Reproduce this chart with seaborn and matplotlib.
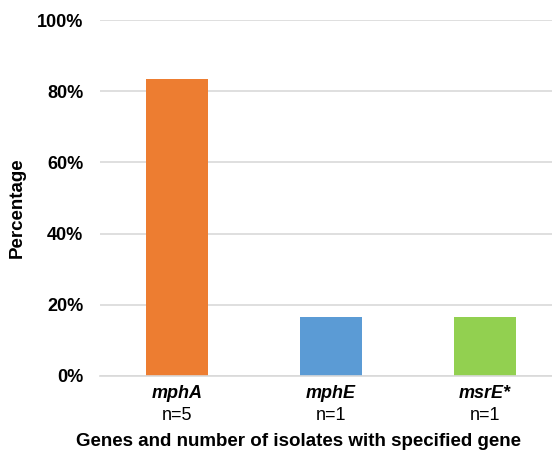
import matplotlib
matplotlib.use("Agg")
import matplotlib.pyplot as plt
import seaborn as sns
import pandas as pd

genes = ["mphA", "mphE", "msrE*"]
counts = ["n=5", "n=1", "n=1"]
percent = [83.3, 16.7, 16.7]
colors = ["#ED7D31", "#5B9BD5", "#92D050"]
yticks = [0, 20, 40, 60, 80, 100]

sns.set_theme(style="white")
plt.rcParams["font.family"] = ["Liberation Sans", "DejaVu Sans"]
plt.rcParams["text.color"] = "black"
plt.rcParams["ytick.color"] = "black"
plt.rcParams["xtick.color"] = "black"

df = pd.DataFrame({"gene": genes, "pct": percent})

fig = plt.figure(figsize=(5.52, 4.51), dpi=100)
ax = fig.add_axes([100 / 552, 75 / 451, 462 / 552, 356 / 451])

sns.barplot(data=df, x="gene", y="pct", hue="gene", palette=colors,
            width=0.4, legend=False, ax=ax, saturation=1, linewidth=0)

ax.set_ylim(0, 100)
ax.set_xlim(-0.5, 2.5)
ax.set_yticks(yticks)
ax.set_yticklabels([f"{t}%" for t in yticks], fontsize=13, fontweight="bold",
                   color="black")
ax.yaxis.grid(True, color="#d9d9d9", linewidth=1.2)
ax.set_axisbelow(True)
for s in ["top", "right", "left"]:
    ax.spines[s].set_visible(False)
ax.spines["bottom"].set_color("#d9d9d9")
ax.spines["bottom"].set_linewidth(1.2)
ax.tick_params(axis="y", length=0, pad=12)
ax.tick_params(axis="x", length=0)
ax.set_xticks(range(len(genes)))
ax.set_xticklabels([])

trans = ax.get_xaxis_transform()
for i, (g, n) in enumerate(zip(genes, counts)):
    ax.text(i, -0.048, g, transform=trans, ha="center", va="center",
            fontsize=13, fontweight="bold", fontstyle="italic", color="black")
    ax.text(i, -0.112, n, transform=trans, ha="center", va="center",
            fontsize=13, color="black")

ax.set_xlabel("")
ax.set_ylabel("")
fig.text(299 / 552, 1 - 441 / 451, "Genes and number of isolates with specified gene",
         ha="center", va="center", fontsize=13.5, fontweight="bold", color="black")
fig.text(17 / 552, 1 - 208 / 451, "Percentage", rotation=90,
         ha="center", va="center", fontsize=13.5, fontweight="bold", color="black")

fig.savefig("out.png", dpi=100)
